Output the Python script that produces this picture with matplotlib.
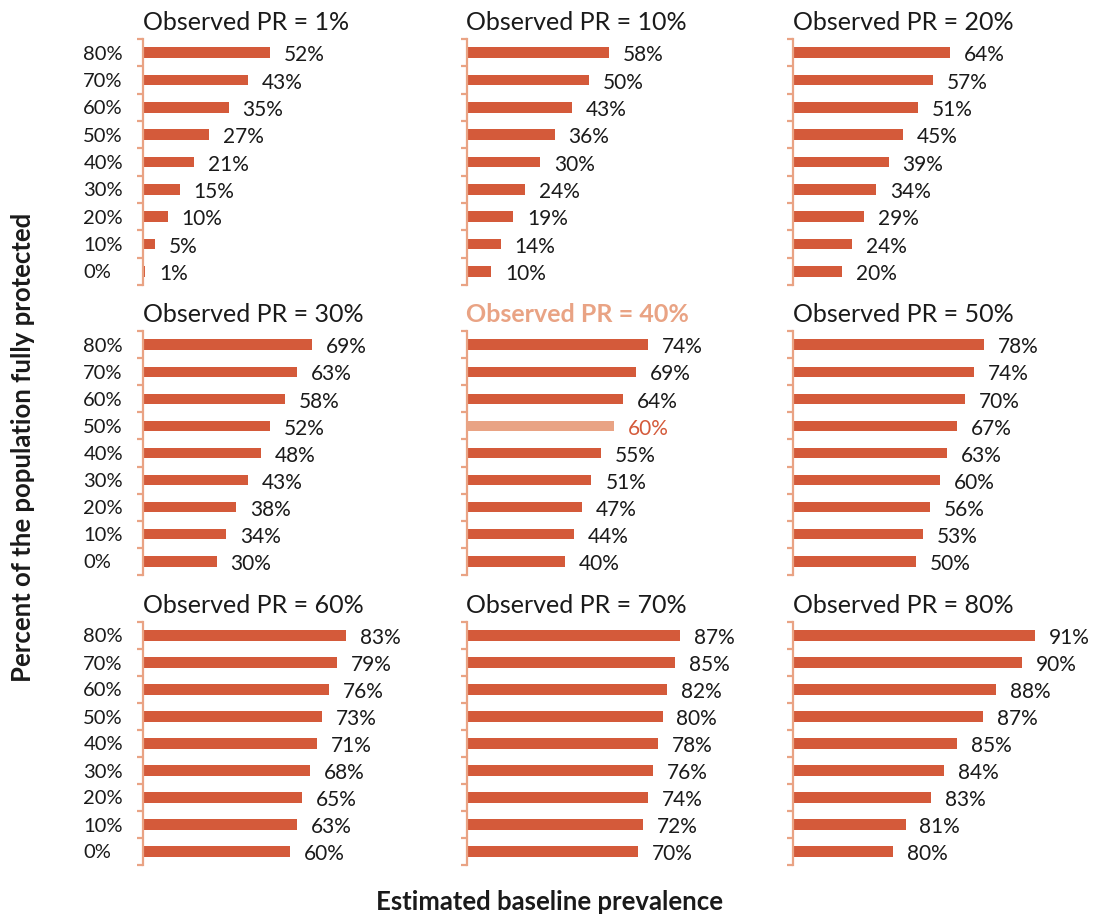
import matplotlib
matplotlib.use("Agg")
import matplotlib.pyplot as plt
import numpy as np

plt.rcParams['font.family'] = ['Lato', 'DejaVu Sans']

# ---- data ----
protected = ["0%", "10%", "20%", "30%", "40%", "50%", "60%", "70%", "80%"]
observed_pr = ["1%", "10%", "20%", "30%", "40%", "50%", "60%", "70%", "80%"]

pr01 = [1, 5, 10, 15, 21, 27, 35, 43, 52]
pr10 = [10, 14, 19, 24, 30, 36, 43, 50, 58]
pr20 = [20, 24, 29, 34, 39, 45, 51, 57, 64]
pr30 = [30, 34, 38, 43, 48, 52, 58, 63, 69]
pr40 = [40, 44, 47, 51, 55, 60, 64, 69, 74]
pr50 = [50, 53, 56, 60, 63, 67, 70, 74, 78]
pr60 = [60, 63, 65, 68, 71, 73, 76, 79, 83]
pr70 = [70, 72, 74, 76, 78, 80, 82, 85, 87]
pr80 = [80, 81, 83, 84, 85, 87, 88, 90, 91]
panels = [pr01, pr10, pr20, pr30, pr40, pr50, pr60, pr70, pr80]

# x-axis ranges per panel (in %)
xmins = [0, 0, 0, 0, 0, 0, 0, 0, 72.3]
highlight_panel = 4
highlight_cat = 5

# ---- style ----
BAR = '#D45A3A'
LIGHT = '#E9A384'
TXT = '#1a1a1a'
W, H = 1093, 918
fig = plt.figure(figsize=(W / 100, H / 100), dpi=100)

col_left = [143, 466.5, 793]
row_tb = [(39, 285), (331, 575), (622, 865)]
ax_w = 260
scale_std = 2.45    # px per %
scale_80 = 12.94

y = np.arange(len(protected))
for i, vals in enumerate(panels):
    r, c = divmod(i, 3)
    top, bot = row_tb[r]
    ax = fig.add_axes([col_left[c] / W, 1 - bot / H, ax_w / W, (bot - top) / H])
    xmin = xmins[i]
    sc = scale_80 if i == 8 else scale_std
    xmax = xmin + ax_w / sc
    colors = [BAR] * len(vals)
    if i == highlight_panel:
        colors[highlight_cat] = LIGHT
    ax.barh(y, vals, height=0.38, color=colors)
    ax.set_xlim(xmin, xmax)
    ax.set_ylim(-0.5, len(protected) - 0.5)
    for k, v in enumerate(vals):
        tc = BAR if (i == highlight_panel and k == highlight_cat) else TXT
        ax.annotate(f"{v}%", xy=(v, y[k]), xytext=(10, -2), textcoords='offset points',
                    ha='left', va='center', fontsize=15, color=tc, annotation_clip=False)
    for s in ['top', 'right', 'bottom']:
        ax.spines[s].set_visible(False)
    ax.spines['left'].set_color(LIGHT)
    ax.spines['left'].set_linewidth(1.6)
    ax.set_xticks([])
    ax.set_yticks(y)
    ax.set_yticks(np.arange(-0.5, len(protected)), minor=True)
    ax.tick_params(axis='y', which='minor', length=4, width=1.6, color=LIGHT, direction='out')
    ax.tick_params(axis='y', which='major', length=0, pad=43, labelsize=14.5, labelcolor=TXT)
    if c == 0:
        ax.set_yticklabels(protected)
        for lab in ax.get_yticklabels():
            lab.set_horizontalalignment('left')
    else:
        ax.set_yticklabels([])
    ax.set_facecolor('none')
    title = f"Observed PR = {observed_pr[i]}"
    if i == highlight_panel:
        ax.annotate(title, xy=(0, 1), xycoords='axes fraction', xytext=(0, 6.5),
                    textcoords='offset points', ha='left', va='baseline',
                    fontsize=18, fontweight='bold', color=LIGHT)
    else:
        ax.annotate(title, xy=(0, 1), xycoords='axes fraction', xytext=(0, 6.5),
                    textcoords='offset points', ha='left', va='baseline',
                    fontsize=18, color=TXT)

fig.text(23 / W, 1 - 447 / H, "Percent of the population fully protected", rotation=90,
         ha='center', va='center', fontsize=18.5, fontweight='bold', color=TXT)
fig.text(549 / W, 1 - 902 / H, "Estimated baseline prevalence",
         ha='center', va='center', fontsize=18.5, fontweight='bold', color=TXT)

fig.savefig("out.png", dpi=100)
